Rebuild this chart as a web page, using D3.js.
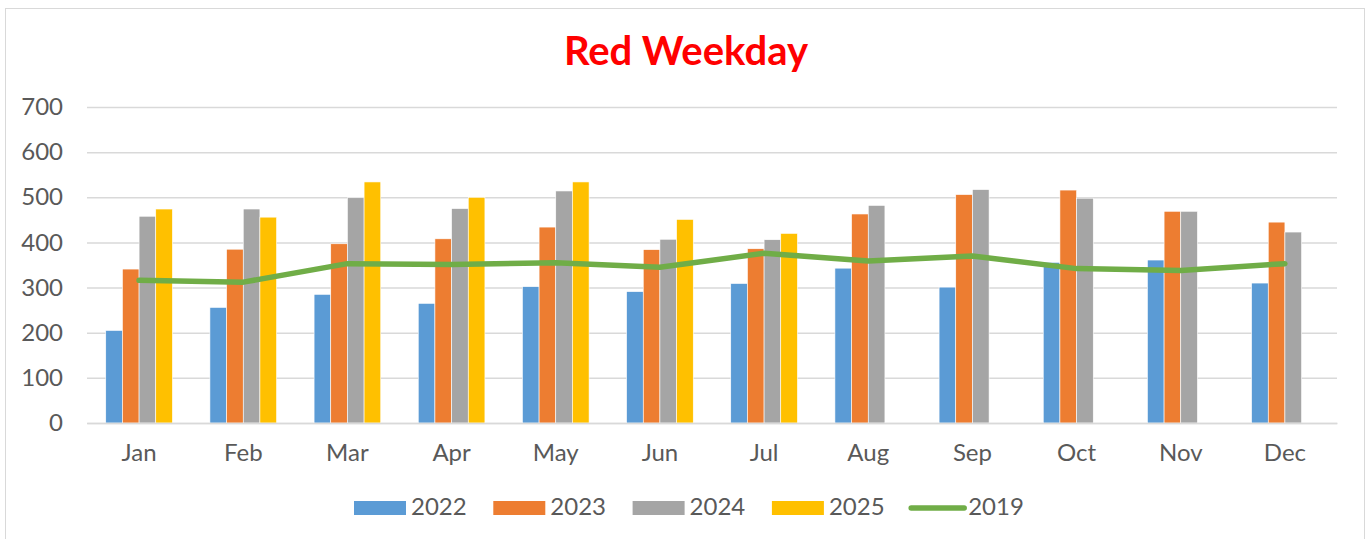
<!DOCTYPE html>
<html>
<head>
<meta charset="utf-8">
<script src="https://cdn.jsdelivr.net/npm/d3@7"></script>
<style>
  body { margin: 0; background: #fff; }
  text { font-family: Lato, "Open Sans", sans-serif; }
</style>
</head>
<body>
<script>
const months = ['Jan', 'Feb', 'Mar', 'Apr', 'May', 'Jun', 'Jul', 'Aug', 'Sep', 'Oct', 'Nov', 'Dec'];
const barSeries = ['2022', '2023', '2024', '2025'];
const v2022 = [205, 256, 285, 265, 302, 291, 309, 343, 301, 356, 361, 310];
const v2023 = [341, 385, 397, 408, 434, 384, 386, 463, 506, 516, 469, 445];
const v2024 = [458, 474, 499, 475, 514, 407, 406, 482, 517, 498, 469, 423];
const v2025 = [474, 456, 534, 500, 534, 451, 420, null, null, null, null, null];
const v2019 = [316, 312, 353, 351, 355, 345, 376, 359, 370, 342, 338, 353];
const yTicks = [0, 100, 200, 300, 400, 500, 600, 700];
const colors = ['#5b9bd5', '#ed7d31', '#a5a5a5', '#ffc000'];
const lineColor = '#70ad47';

const W = 1368, H = 539;
const svg = d3.select('body').append('svg')
  .attr('width', W)
  .attr('height', H);

// chart frame
svg.append('rect')
  .attr('x', 5.5).attr('y', 8.5)
  .attr('width', 1359).attr('height', 540)
  .attr('fill', '#fff').attr('stroke', '#d9d9d9');

const plotL = 87, plotR = 1337, plotT = 107, plotB = 423;

const x = d3.scaleBand().domain(months).range([plotL, plotR]);
const groupW = x.bandwidth() * 0.64;
const x1 = d3.scaleBand().domain(barSeries).range([0, groupW]);
const y = d3.scaleLinear().domain([0, 700]).range([plotB, plotT]);

// title
svg.append('text')
  .attr('x', 686).attr('y', 65)
  .attr('text-anchor', 'middle')
  .attr('font-size', 40).attr('font-weight', 'bold')
  .attr('fill', '#ff0000')
  .text('Red Weekday');

// gridlines + y labels
const yAxis = svg.append('g')
  .attr('transform', `translate(${plotL},0)`)
  .call(d3.axisLeft(y).tickValues(yTicks).tickSize(-(plotR - plotL)).tickPadding(24));
yAxis.select('.domain').remove();
yAxis.selectAll('line').attr('stroke', '#d9d9d9').attr('stroke-width', 1.5);
yAxis.selectAll('text').attr('font-size', 24).attr('fill', '#595959')
  .attr('font-family', 'Lato, sans-serif');

// bars
const table = months.map((m, i) => ({
  month: m,
  vals: [v2022[i], v2023[i], v2024[i], v2025[i]]
}));

const groups = svg.append('g').selectAll('g')
  .data(table).enter()
  .append('g')
  .attr('transform', d => `translate(${x(d.month) + (x.bandwidth() - groupW) / 2},0)`);

groups.selectAll('rect')
  .data(d => d.vals.map((v, j) => ({ key: barSeries[j], v: v, j: j })).filter(e => e.v != null))
  .join('rect')
  .attr('x', d => x1(d.key))
  .attr('width', x1.bandwidth())
  .attr('y', d => y(d.v))
  .attr('height', d => y(0) - y(d.v))
  .attr('fill', d => colors[d.j])
  .attr('stroke', '#fff')
  .attr('stroke-width', 0.6);

// x axis
const xAxis = svg.append('g')
  .attr('transform', `translate(0,${plotB})`)
  .call(d3.axisBottom(x).tickSize(0).tickPadding(21));
xAxis.select('.domain').attr('stroke', '#d9d9d9').attr('stroke-width', 1.5);
xAxis.selectAll('text').attr('font-size', 24).attr('fill', '#595959')
  .attr('font-family', 'Lato, sans-serif');

// 2019 line
const line = d3.line()
  .x((d, i) => x(months[i]) + x.bandwidth() / 2)
  .y(d => y(d));

svg.append('path')
  .datum(v2019)
  .attr('d', line)
  .attr('fill', 'none')
  .attr('stroke', lineColor)
  .attr('stroke-width', 5.5)
  .attr('stroke-linejoin', 'round')
  .attr('stroke-linecap', 'round');

// legend
const legendItems = barSeries.concat(['2019']);
const legend = svg.append('g').selectAll('g')
  .data(legendItems).enter()
  .append('g')
  .attr('transform', (d, i) => `translate(${354 + i * 139.3},0)`);

legend.each(function (d, i) {
  const g = d3.select(this);
  if (i < 4) {
    g.append('rect')
      .attr('x', 0).attr('y', 501)
      .attr('width', 52).attr('height', 14)
      .attr('fill', colors[i]);
  } else {
    g.append('line')
      .attr('x1', 0).attr('x2', 53)
      .attr('y1', 508).attr('y2', 508)
      .attr('stroke', lineColor)
      .attr('stroke-width', 5.5)
      .attr('stroke-linecap', 'round');
  }
  g.append('text')
    .attr('x', 57).attr('y', 515)
    .attr('font-size', 24)
    .attr('fill', '#595959')
    .text(d);
});
</script>
</body>
</html>
